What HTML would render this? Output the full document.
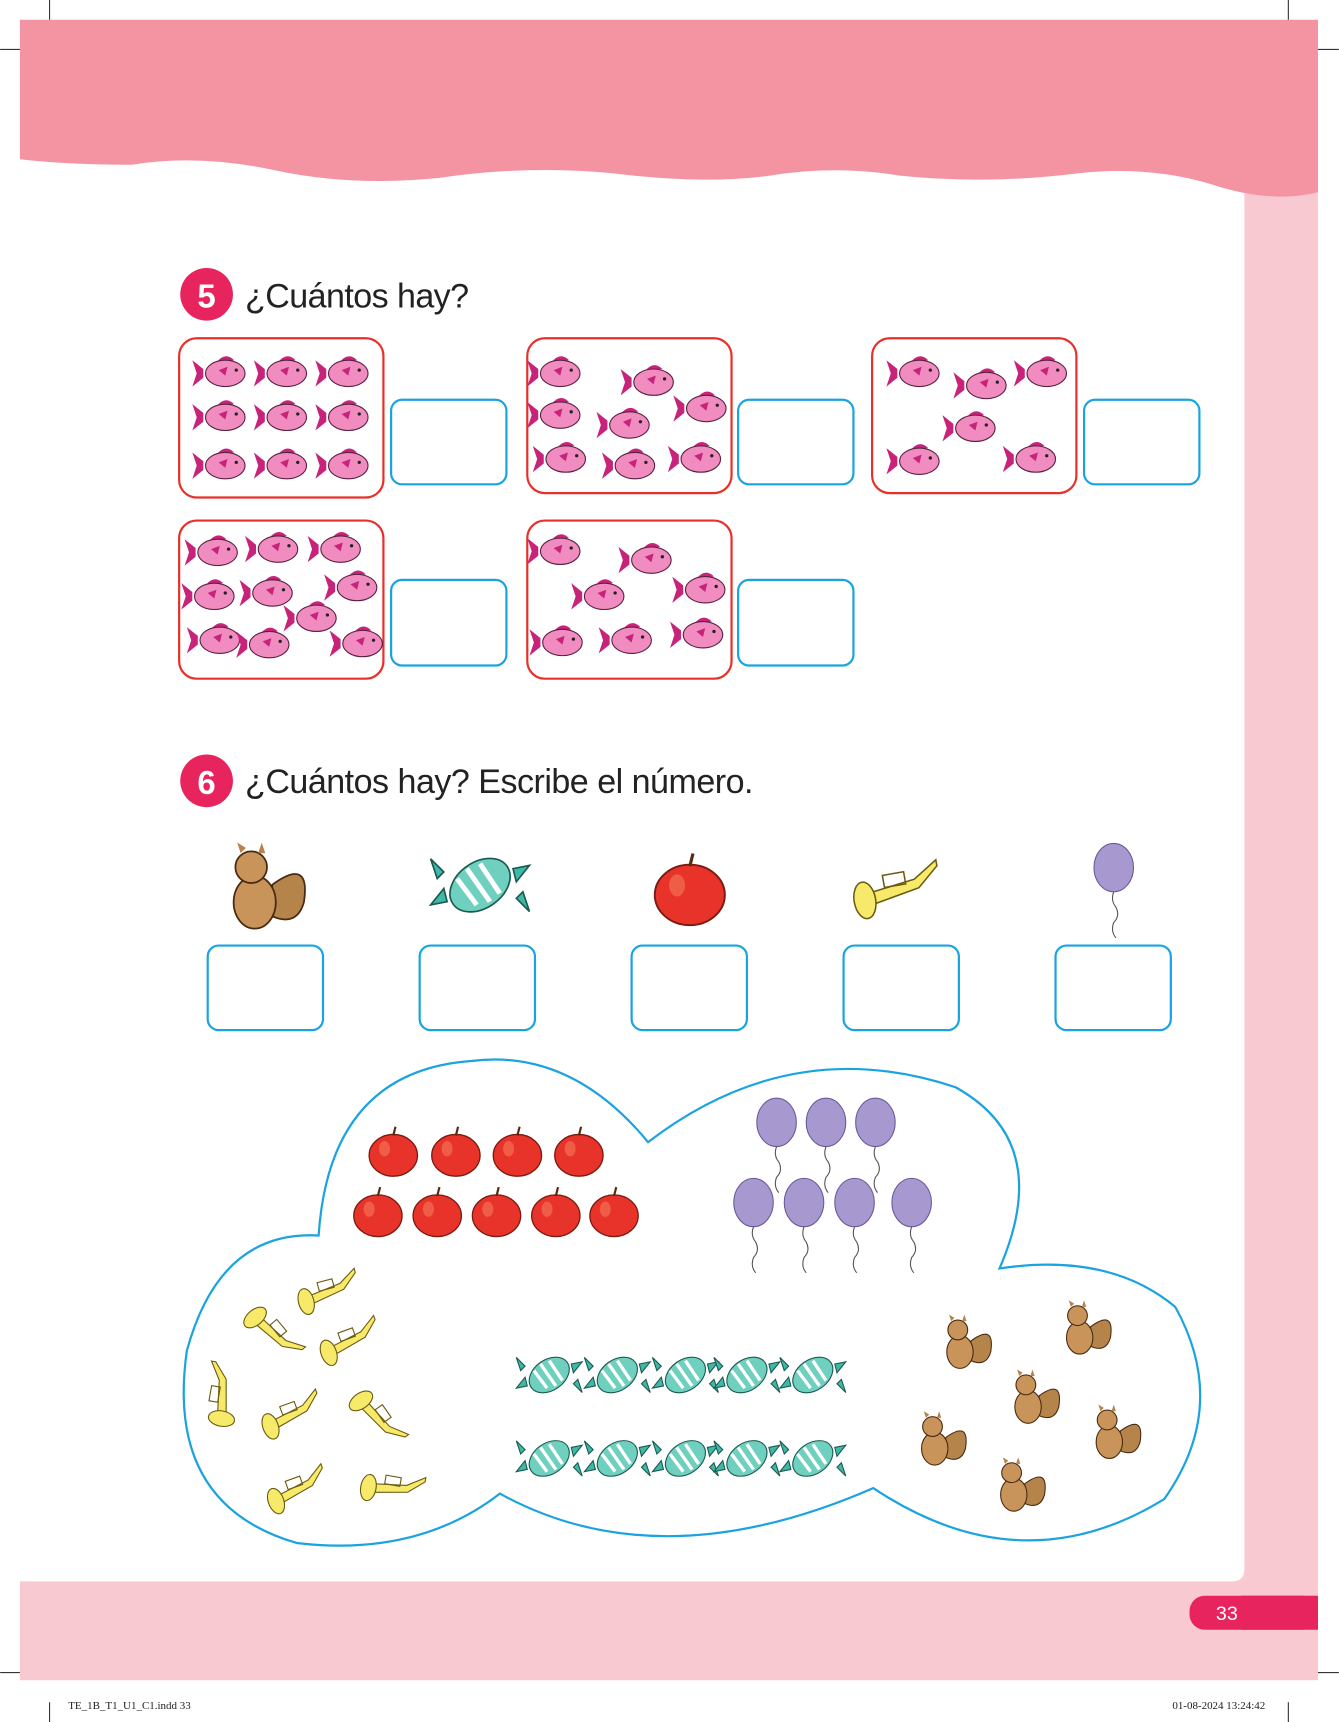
<!DOCTYPE html>
<html><head><meta charset="utf-8"><style>
html,body{margin:0;padding:0;background:#fff}
svg{display:block}
text{font-family:"Liberation Sans","DejaVu Sans",sans-serif}
</style></head><body>
<svg width="1339" height="1722" viewBox="0 0 1219 1568" xmlns="http://www.w3.org/2000/svg">
<defs>
<g id="fish"><path d="M-18,-4 L-28,-12 L-24,0 L-28,12 L-18,4Z" fill="#c8237a"/><path d="M-6,-10 Q2,-20 10,-12Z" fill="#c8237a"/><ellipse cx="2" cy="0" rx="18" ry="12" fill="#f08cc0" stroke="#5a2040" stroke-width="1"/><path d="M-4,-3 L4,-6 L2,2Z" fill="#c8237a"/><circle cx="12" cy="-3" r="1.5" fill="#222"/></g>
<g id="apple"><ellipse cx="0" cy="2" rx="22" ry="19" fill="#e8332a" stroke="#7a1a10" stroke-width="1.2"/><ellipse cx="-8" cy="-4" rx="5" ry="7" fill="#f47a5a" opacity=".6"/><path d="M0,-16 L2,-24" stroke="#5a2a10" stroke-width="2"/></g>
<g id="balloon"><ellipse cx="0" cy="0" rx="18" ry="22" fill="#a898d0" stroke="#6a5a9a" stroke-width="1"/><path d="M0,22 q-3,8 2,14 q4,8 -2,14 q-3,8 2,14" stroke="#555" stroke-width="1" fill="none"/></g>
<g id="candy"><path d="M-22,-8 L-30,-16 L-26,-4Z M22,8 L30,16 L26,4Z M-20,10 L-30,12 L-22,2Z M20,-10 L30,-12 L22,-2Z" fill="#3fb8a8" stroke="#1a5a50" stroke-width="1"/><ellipse cx="0" cy="0" rx="20" ry="14" transform="rotate(-35)" fill="#6fd0c0" stroke="#1a5a50" stroke-width="1"/><path d="M-8,-10 L6,10 M0,-13 L12,5 M-14,-4 L-2,12" stroke="#fff" stroke-width="3"/></g>
<g id="trumpet"><path d="M-18,-4 L14,-8 L30,-18 L30,-14 L16,-2 L-18,4Z" fill="#f7ea6a" stroke="#6a5a10" stroke-width="1"/><ellipse cx="-20" cy="0" rx="7" ry="12" fill="#f7ea6a" stroke="#6a5a10" stroke-width="1"/><rect x="-6" y="-14" width="14" height="8" fill="none" stroke="#6a5a10"/></g>
<g id="sq"><path d="M8,-4 Q30,-20 26,6 Q22,20 8,14Z" fill="#b5844a" stroke="#4a2a10" stroke-width="1"/><ellipse cx="-2" cy="6" rx="12" ry="15" fill="#c8945a" stroke="#4a2a10" stroke-width="1"/><circle cx="-4" cy="-14" r="9" fill="#c8945a" stroke="#4a2a10" stroke-width="1"/><path d="M-10,-22 l-2,-6 l5,3Z M0,-22 l2,-6 l2,6Z" fill="#b5844a"/></g>
</defs>
<rect x="1133" y="140" width="67" height="1310" fill="#f9c9d1"/>
<path d="M18,1440 L1122,1440 Q1133,1440 1133,1428 L1133,1440 L1200,1440 L1200,1530 L18,1530Z" fill="#f9c9d1"/>
<path d="M18,18 L1200,18 L1200,175 Q1160,185 1110,170 Q1050,150 980,158 Q900,168 820,160 Q760,150 700,160 Q640,168 560,158 Q480,150 400,162 Q320,170 250,155 Q180,140 120,150 Q60,150 18,145Z" fill="#f494a2"/>
<rect x="1083" y="1453" width="117" height="31" rx="14" fill="#e8245f"/>
<rect x="1130" y="1453" width="70" height="31" fill="#e8245f"/>
<text x="1117" y="1475" font-size="18" fill="#fff" text-anchor="middle">33</text>
<g stroke="#333" stroke-width="1"><path d="M45,0 V18 M0,45 H18 M1173,0 V18 M1200,45 H1219 M45,1550 V1568 M0,1523 H18 M1173,1550 V1568 M1200,1523 H1219"/></g>
<text x="62" y="1556" font-size="10" style="font-family:'Liberation Serif',serif" fill="#222">TE_1B_T1_U1_C1.indd   33</text>
<text x="1152" y="1556" font-size="10" style="font-family:'Liberation Serif',serif" fill="#222" text-anchor="end">01-08-2024   13:24:42</text>
<circle cx="188" cy="268" r="24" fill="#e8245f"/>
<text x="188" y="280" font-size="30" font-weight="bold" fill="#fff" text-anchor="middle">5</text>
<text x="223" y="280" font-size="31" fill="#222" textLength="204">¿Cuántos hay?</text>
<g fill="none" stroke="#e8302a" stroke-width="2">
<rect x="163" y="308" width="186" height="145" rx="16"/><rect x="480" y="308" width="186" height="141" rx="16"/><rect x="794" y="308" width="186" height="141" rx="16"/><rect x="163" y="474" width="186" height="144" rx="16"/><rect x="480" y="474" width="186" height="144" rx="16"/></g>
<g fill="none" stroke="#1aa3e0" stroke-width="2">
<rect x="356" y="364" width="105" height="77" rx="10"/><rect x="672" y="364" width="105" height="77" rx="10"/><rect x="987" y="364" width="105" height="77" rx="10"/><rect x="356" y="528" width="105" height="78" rx="10"/><rect x="672" y="528" width="105" height="78" rx="10"/>
<rect x="189" y="861" width="105" height="77" rx="10"/><rect x="382" y="861" width="105" height="77" rx="10"/><rect x="575" y="861" width="105" height="77" rx="10"/><rect x="768" y="861" width="105" height="77" rx="10"/><rect x="961" y="861" width="105" height="77" rx="10"/></g>
<g>
<use href="#fish" x="203" y="340"/><use href="#fish" x="259" y="340"/><use href="#fish" x="315" y="340"/>
<use href="#fish" x="203" y="380"/><use href="#fish" x="259" y="380"/><use href="#fish" x="315" y="380"/>
<use href="#fish" x="203" y="424"/><use href="#fish" x="259" y="424"/><use href="#fish" x="315" y="424"/>
<use href="#fish" x="508" y="340"/><use href="#fish" x="593" y="348"/><use href="#fish" x="641" y="372"/><use href="#fish" x="508" y="378"/><use href="#fish" x="571" y="387"/><use href="#fish" x="513" y="418"/><use href="#fish" x="576" y="424"/><use href="#fish" x="636" y="418"/>
<use href="#fish" x="835" y="340"/><use href="#fish" x="896" y="351"/><use href="#fish" x="951" y="340"/><use href="#fish" x="886" y="390"/><use href="#fish" x="835" y="420"/><use href="#fish" x="941" y="418"/>
<use href="#fish" x="196" y="503"/><use href="#fish" x="251" y="500"/><use href="#fish" x="308" y="500"/><use href="#fish" x="193" y="543"/><use href="#fish" x="246" y="540"/><use href="#fish" x="323" y="535"/><use href="#fish" x="286" y="563"/><use href="#fish" x="198" y="583"/><use href="#fish" x="243" y="587"/><use href="#fish" x="328" y="586"/>
<use href="#fish" x="508" y="502"/><use href="#fish" x="591" y="510"/><use href="#fish" x="548" y="543"/><use href="#fish" x="640" y="537"/><use href="#fish" x="510" y="585"/><use href="#fish" x="573" y="583"/><use href="#fish" x="638" y="578"/>
</g>
<circle cx="188" cy="711" r="24" fill="#e8245f"/>
<text x="188" y="723" font-size="30" font-weight="bold" fill="#fff" text-anchor="middle">6</text>
<text x="223" y="722" font-size="31" fill="#222" textLength="463">¿Cuántos hay? Escribe el número.</text>
<use href="#sq" transform="translate(235,812) scale(1.6)"/>
<use href="#candy" transform="translate(437,806) scale(1.5)"/>
<use href="#apple" transform="translate(628,812) scale(1.45)"/>
<use href="#trumpet" transform="translate(815,815) scale(1.4) rotate(-10)"/>
<use href="#balloon" transform="translate(1014,790)"/>
<path d="M455,1360 Q600,1440 795,1355 Q930,1445 1060,1365 Q1120,1280 1070,1190 Q1010,1140 910,1155 Q960,1040 870,990 Q720,940 590,1040 Q520,955 430,966 Q300,975 290,1125 Q200,1120 170,1230 Q150,1370 270,1405 Q380,1418 455,1360Z" fill="none" stroke="#1aa3e0" stroke-width="2"/>
<g>
<use href="#apple" x="358" y="1050"/><use href="#apple" x="415" y="1050"/><use href="#apple" x="471" y="1050"/><use href="#apple" x="527" y="1050"/>
<use href="#apple" x="344" y="1105"/><use href="#apple" x="398" y="1105"/><use href="#apple" x="452" y="1105"/><use href="#apple" x="506" y="1105"/><use href="#apple" x="559" y="1105"/>
<use href="#balloon" x="707" y="1022"/><use href="#balloon" x="752" y="1022"/><use href="#balloon" x="797" y="1022"/>
<use href="#balloon" x="686" y="1095"/><use href="#balloon" x="732" y="1095"/><use href="#balloon" x="778" y="1095"/><use href="#balloon" x="830" y="1095"/>
<use href="#trumpet" transform="translate(298,1180) rotate(-15)"/><use href="#trumpet" transform="translate(245,1215) rotate(50)"/><use href="#trumpet" transform="translate(318,1225) rotate(-20)"/>
<use href="#trumpet" transform="translate(205,1272) rotate(-80)"/><use href="#trumpet" transform="translate(265,1292) rotate(-20)"/><use href="#trumpet" transform="translate(340,1292) rotate(55)"/>
<use href="#trumpet" transform="translate(270,1360) rotate(-20)"/><use href="#trumpet" transform="translate(355,1358) rotate(10)"/>
<use href="#candy" x="500" y="1252"/><use href="#candy" x="562" y="1252"/><use href="#candy" x="624" y="1252"/><use href="#candy" x="680" y="1252"/><use href="#candy" x="740" y="1252"/>
<use href="#candy" x="500" y="1328"/><use href="#candy" x="562" y="1328"/><use href="#candy" x="624" y="1328"/><use href="#candy" x="680" y="1328"/><use href="#candy" x="740" y="1328"/>
<use href="#sq" x="876" y="1225"/><use href="#sq" x="985" y="1212"/><use href="#sq" x="938" y="1275"/><use href="#sq" x="853" y="1313"/><use href="#sq" x="1012" y="1307"/><use href="#sq" x="925" y="1355"/>
</g>
</svg>
</body></html>
